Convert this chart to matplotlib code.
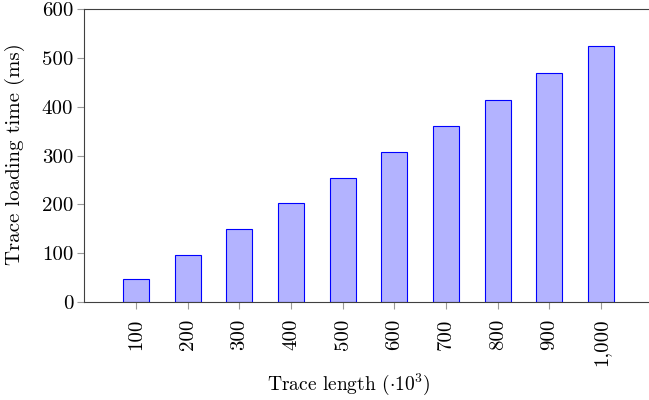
import matplotlib
matplotlib.use("Agg")
import matplotlib.pyplot as plt

# Trace loading time per trace length (thousands of events)
trace_lengths = [100, 200, 300, 400, 500, 600, 700, 800, 900, 1000]
tick_labels = ["100", "200", "300", "400", "500", "600", "700", "800", "900", "1,000"]
load_times_ms = [47, 97, 150, 202, 253, 307, 360, 413, 470, 524]
y_ticks = [0, 100, 200, 300, 400, 500, 600]

plt.rcParams["font.family"] = ["cmr10", "DejaVu Serif"]
plt.rcParams["mathtext.fontset"] = "cm"
plt.rcParams["axes.unicode_minus"] = False

FS = 15

fig = plt.figure(figsize=(6.49, 4.0), dpi=100)
ax = fig.add_axes([0.130, 0.245, 0.8757, 0.7323])

ax.bar(trace_lengths, load_times_ms, width=50,
       facecolor=(0.7, 0.7, 1.0), edgecolor=(0, 0, 1), linewidth=0.8, zorder=2)

ax.set_xlim(0, 1100)
ax.set_ylim(0, 600)
ax.set_xticks(trace_lengths)
ax.set_xticklabels(tick_labels, rotation=90, fontsize=FS)
ax.set_yticks(y_ticks)
ax.set_yticklabels([str(v) for v in y_ticks], fontsize=FS)

for side in ("left", "bottom", "top"):
    ax.spines[side].set_color("0.25")
    ax.spines[side].set_linewidth(0.8)
ax.spines["right"].set_visible(False)

ax.tick_params(axis="both", direction="out", length=5, width=0.8,
               color="0.6", labelcolor="black")
ax.tick_params(axis="x", pad=7)
ax.tick_params(axis="y", pad=3)

ax.set_ylabel("Trace loading time (ms)", fontsize=FS)
ax.yaxis.set_label_coords(-0.122, 0.505)
ax.yaxis.label.set_ha("center")
ax.yaxis.label.set_va("center")
ax.set_xlabel(r"Trace length ($\cdot10^3$)", fontsize=14)
ax.xaxis.set_label_coords(0.466, -0.28)
ax.xaxis.label.set_va("center")

fig.savefig("out.png", dpi=100)
